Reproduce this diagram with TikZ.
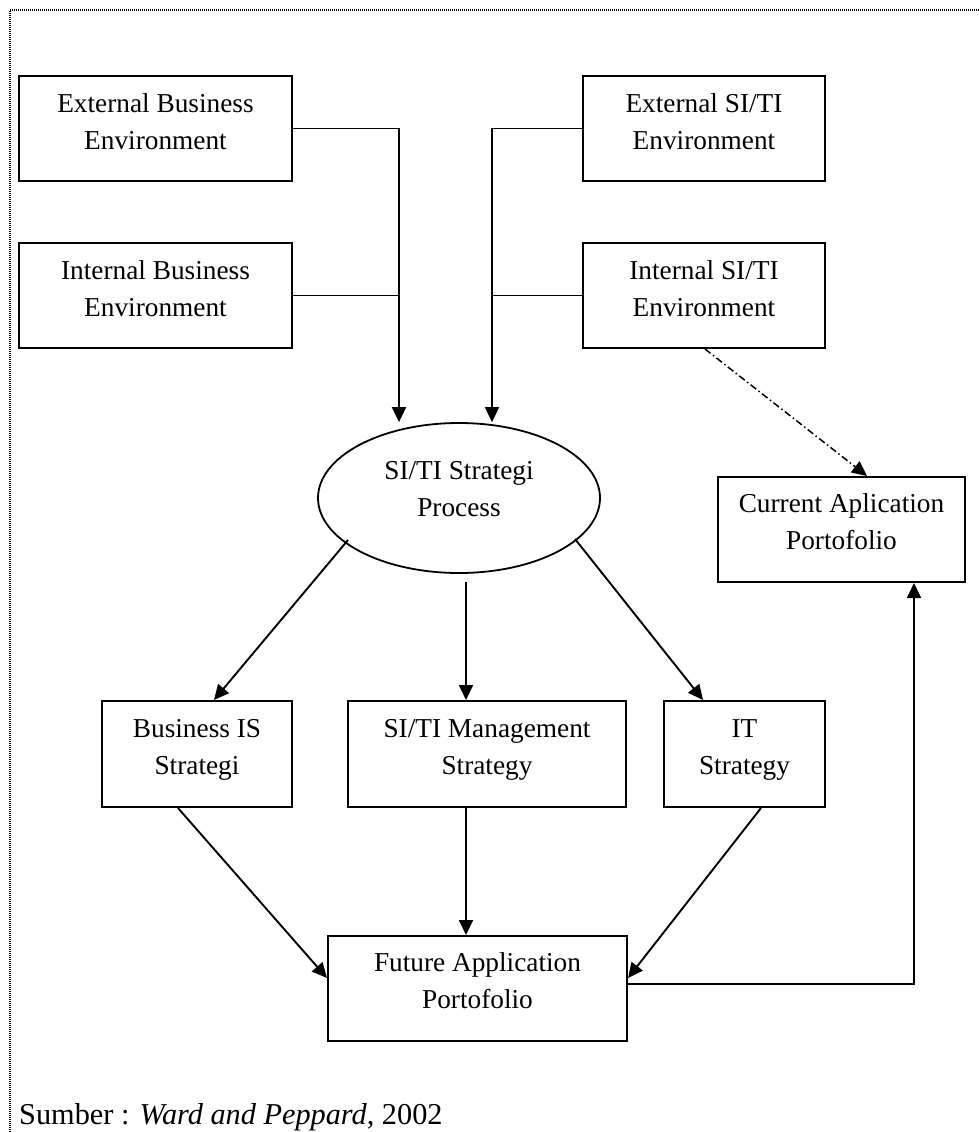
\documentclass[tikz,border=0pt]{standalone}
\usepackage{fontspec}
\setmainfont{Liberation Serif}
\usetikzlibrary{arrows.meta,shapes.geometric}
\begin{document}
\begin{tikzpicture}[x=1pt,y=-1pt,
  box/.style={draw,line width=2pt,rectangle,inner sep=0pt},
  txt/.style={align=center,font=\fontsize{27.3}{37}\selectfont,inner sep=0pt},
  conn/.style={line width=1.9pt},
  arr/.style={conn,-{Triangle[length=15pt,width=14pt]}},
  dashdot/.style={line width=1.5pt,dash pattern=on 7pt off 3pt on 1.5pt off 3pt,-{Triangle[length=15pt,width=14pt]}},
  frame/.style={line width=1.5pt,dash pattern=on 1pt off 1pt}]
\useasboundingbox (0,0) rectangle (979,1132);
% frame
\draw[frame] (10,1132) -- (10,10) -- (979,10);
% boxes
\node[box,minimum width=273pt,minimum height=105pt] (eb) at (155.5,128.5) {};
\node[box,minimum width=273pt,minimum height=105pt] (ib) at (155.5,295.5) {};
\node[box,minimum width=242pt,minimum height=105pt] (es) at (704,128.5) {};
\node[box,minimum width=242pt,minimum height=105pt] (is) at (704,295.5) {};
\node[draw,ellipse,line width=1.8pt,minimum width=282pt,minimum height=150pt,inner sep=0pt] (ell) at (459,498) {};
\node[box,minimum width=247pt,minimum height=105pt] (cur) at (841.5,529.5) {};
\node[box,minimum width=190pt,minimum height=106pt] (bis) at (197,754) {};
\node[box,minimum width=278pt,minimum height=106pt] (mgmt) at (487,754) {};
\node[box,minimum width=161pt,minimum height=106pt] (its) at (744.5,754) {};
\node[box,minimum width=299pt,minimum height=105pt] (fut) at (477.5,988.5) {};
% texts
\node[txt] (ebt) at ([yshift=6.8pt]eb.center) {External Business\\Environment};
\node[txt] (ibt) at ([yshift=6.8pt]ib.center) {Internal Business\\Environment};
\node[txt] (est) at ([yshift=6.8pt]es.center) {External SI/TI\\Environment};
\node[txt] (ist) at ([yshift=6.8pt]is.center) {Internal SI/TI\\Environment};
\node[txt] (ellt) at ([yshift=9.3pt]ell.center) {SI/TI Strategi\\Process};
\node[txt] (curt) at ([yshift=7.8pt]cur.center) {Current Aplication\\Portofolio};
\node[txt] (bist) at ([yshift=4.3pt]bis.center) {Business IS\\Strategi};
\node[txt] (mgmtt) at ([yshift=4.3pt]mgmt.center) {SI/TI Management\\Strategy};
\node[txt] (itst) at ([yshift=4.3pt]its.center) {IT\\Strategy};
\node[txt] (futt) at ([yshift=7.8pt]fut.center) {Future Application\\Portofolio};
\node[anchor=base west,inner sep=0pt,font=\fontsize{30.3}{36}\selectfont] (src) at (19,1124) {Sumber : \textit{Ward and Peppard}, 2002};
% junction coordinates
\coordinate (jl) at (399,295.5);
\coordinate (jr) at (492,295.5);
\coordinate (m1) at (466,582);
% connectors into the process
\draw[arr] (eb.east) -| (ell.north -| jl);
\draw[conn] (ib.east) -- (jl);
\draw[arr] (es.west) -| (ell.north -| jr);
\draw[conn] (is.west) -- (jr);
% process to strategies
\draw[arr] ([shift={(-111pt,-42pt)}]ell.center) -- ([xshift=17pt]bis.north);
\draw[arr] (m1) -- (m1 |- mgmt.north);
\draw[arr] ([shift={(116pt,-41pt)}]ell.center) -- ([xshift=-41.5pt]its.north);
% strategies to future
\draw[arr] ([xshift=-19pt]bis.south) -- ([yshift=10.5pt]fut.west);
\draw[arr] (m1 |- mgmt.south) -- (m1 |- fut.north);
\draw[arr] ([xshift=16.5pt]its.south) -- ([yshift=10.5pt]fut.east);
% future to current
\draw[arr] ([yshift=4.5pt]fut.east) -| ([xshift=72.5pt]cur.south);
% internal SI/TI to current
\draw[dashdot] ([xshift=1pt]is.south) -- ([xshift=25.5pt]cur.north);
\end{tikzpicture}
\end{document}
